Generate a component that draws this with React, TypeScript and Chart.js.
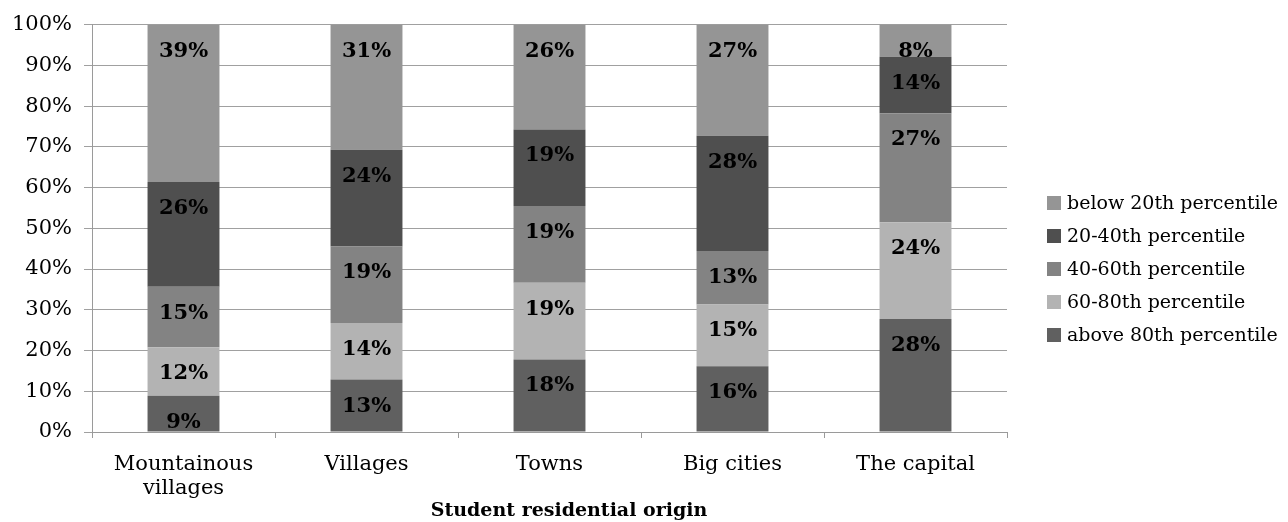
import React, { useEffect, useRef } from "react";
import { Chart, registerables } from "chart.js";

Chart.register(...registerables);

const categories: string[][] = [["Mountainous", "villages"], ["Villages"], ["Towns"], ["Big cities"], ["The capital"]];
const seriesNames = ["above 80th percentile", "60-80th percentile", "40-60th percentile", "20-40th percentile", "below 20th percentile"];
const above80 = [9, 13, 18, 16, 28];
const p60to80 = [12, 14, 19, 15, 24];
const p40to60 = [15, 19, 19, 13, 27];
const p20to40 = [26, 24, 19, 28, 14];
const below20 = [39, 31, 26, 27, 8];
const yTicks = [0, 10, 20, 30, 40, 50, 60, 70, 80, 90, 100];
const colors = ["#606060", "#b3b3b3", "#838383", "#4f4f4f", "#959595"];
const axisTitle = "Student residential origin";

const FONT = "'DejaVu Serif', serif";

export default function App() {
  const ref = useRef<HTMLCanvasElement | null>(null);
  useEffect(() => {
    document.body.style.margin = "0";
    const raw = [above80, p60to80, p40to60, p20to40, below20];
    const sums = categories.map((_, i) => raw.reduce((s, arr) => s + arr[i], 0));
    const datasets = raw.map((arr, k) => ({
      label: seriesNames[k],
      data: arr.map((v, i) => (v / sums[i]) * 100),
      backgroundColor: colors[k],
      borderWidth: 0,
      categoryPercentage: 1,
      barPercentage: 0.393,
    }));

    const labelPlugin = {
      id: "segLabels",
      afterDatasetsDraw(chart: any) {
        const ctx = chart.ctx;
        ctx.save();
        ctx.font = `bold 21px ${FONT}`;
        ctx.fillStyle = "#000";
        ctx.textAlign = "center";
        ctx.textBaseline = "alphabetic";
        chart.data.datasets.forEach((ds: any, k: number) => {
          const meta = chart.getDatasetMeta(k);
          meta.data.forEach((bar: any, i: number) => {
            const top = Math.min(bar.y, bar.base);
            ctx.fillText(raw[k][i] + "%", bar.x, top + 32);
          });
        });
        ctx.restore();
      },
    };

    const legendPlugin = {
      id: "sideLegend",
      afterDraw(chart: any) {
        const ctx = chart.ctx;
        ctx.save();
        ctx.font = `19px ${FONT}`;
        ctx.textBaseline = "middle";
        ctx.textAlign = "left";
        const order = [4, 3, 2, 1, 0];
        order.forEach((k, row) => {
          const cy = 203 + row * 33;
          ctx.fillStyle = colors[k];
          ctx.fillRect(1047, cy - 7, 14, 14);
          ctx.fillStyle = "#000";
          ctx.fillText(seriesNames[k], 1067, cy + 1);
        });
        ctx.font = `bold 19px ${FONT}`;
        ctx.textAlign = "center";
        ctx.fillText(axisTitle, 569, 511);
        ctx.restore();
      },
    };

    const chart = new Chart(ref.current!, {
      type: "bar",
      data: { labels: categories as any, datasets },
      options: {
        animation: false,
        responsive: false,
        maintainAspectRatio: false,
        layout: { padding: { top: 24, right: 281, left: 0, bottom: 0 } },
        plugins: { legend: { display: false }, tooltip: { enabled: false } },
        scales: {
          x: {
            stacked: true,
            grid: { display: true, drawOnChartArea: false, drawTicks: true, tickLength: 6, offset: true, color: "#9a9a9a" },
            border: { display: true, color: "#9a9a9a" },
            ticks: { color: "#000", font: { family: FONT, size: 21, lineHeight: 1.15 }, padding: 14, maxRotation: 0 },
            afterFit(scale: any) {
              scale.height = 90;
            },
          },
          y: {
            stacked: true,
            min: 0,
            max: 100,
            afterBuildTicks(scale: any) {
              scale.ticks = yTicks.map((v) => ({ value: v }));
            },
            grid: { color: "#a0a0a0", drawTicks: true, tickLength: 8 },
            border: { display: true, color: "#9a9a9a" },
            ticks: { color: "#000", font: { family: FONT, size: 21 }, padding: 12, callback: (v: any) => v + "%" },
            afterFit(scale: any) {
              scale.width = 92;
            },
          },
        },
      },
      plugins: [labelPlugin, legendPlugin],
    });
    return () => chart.destroy();
  }, []);
  return (
    <div style={{ width: 1288, height: 522 }}>
      <canvas ref={ref} width={1288} height={522} style={{ width: 1288, height: 522, display: "block" }} />
    </div>
  );
}
